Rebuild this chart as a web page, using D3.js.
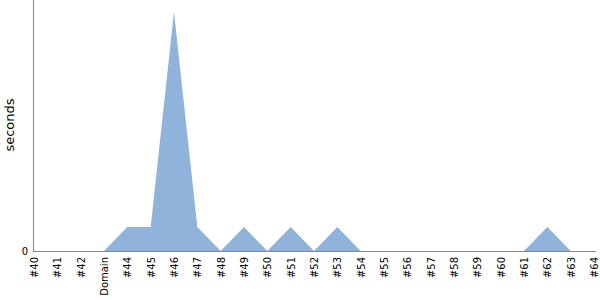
<!DOCTYPE html>
<html><head><meta charset="utf-8">
<script src="https://cdn.jsdelivr.net/npm/d3@7"></script>
<style>body{margin:0;background:#fff}svg{display:block}</style>
</head><body>
<svg id="c" width="600" height="300"></svg>
<script>
const categories = ["#40","#41","#42","Domain","#44","#45","#46","#47","#48","#49","#50","#51","#52","#53","#54","#55","#56","#57","#58","#59","#60","#61","#62","#63","#64"];
const seconds = [0,0,0,0,1,1,10,1,0,1,0,1,0,1,0,0,0,0,0,0,0,0,1,0,0];
const yTicks = [0];

const svg = d3.select("#c");
const x = d3.scalePoint().domain(categories).range([34, 594]);
const y = d3.scaleLinear().domain([0, 10.5]).range([251, 0]);

const data = categories.map((c,i)=>({c, v: seconds[i]}));
svg.append("path").datum(data)
  .attr("fill", "#8fb3db")
  .attr("d", d3.area().x(d=>x(d.c)).y0(y(0)).y1(d=>y(d.v)));

const font = "DejaVu Sans, sans-serif";
const xa = svg.append("g").attr("transform","translate(0,251)")
  .call(d3.axisBottom(x).tickSize(0).tickPadding(0));
xa.select(".domain").attr("stroke","#888").attr("d","M33,0.5H596");
xa.selectAll("text").attr("font-family",font).attr("font-size",10).attr("fill","#000")
  .attr("transform","rotate(-90)").attr("text-anchor","end")
  .attr("x",-6).attr("y",0).attr("dy","0.35em");

const ya = svg.append("g").attr("transform","translate(33,0)")
  .call(d3.axisLeft(y).tickValues(yTicks).tickSize(0).tickPadding(5));
ya.select(".domain").attr("stroke","#888").attr("d","M0.5,0V251");
ya.selectAll("text").attr("font-family",font).attr("font-size",10).attr("fill","#000");

svg.append("text").attr("transform","translate(14,125) rotate(-90)")
  .attr("text-anchor","middle").attr("font-family",font).attr("font-size",13)
  .text("seconds");
</script>
</body></html>
